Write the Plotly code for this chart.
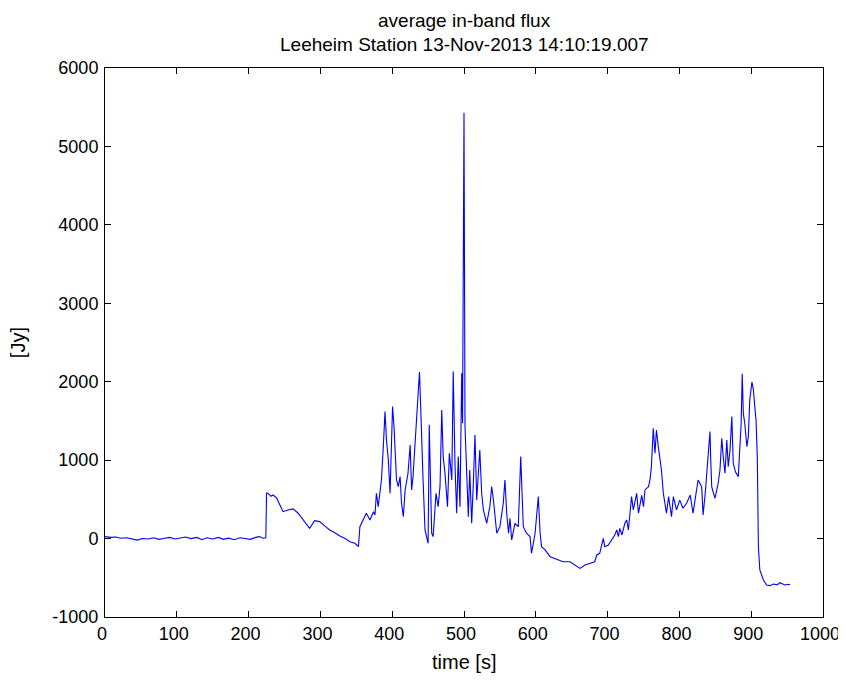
import plotly.graph_objects as go

time_s = [0, 8, 15, 22, 30, 38, 45, 52, 60, 68, 75, 83, 90, 98, 105, 112, 120, 128, 135, 142,
          150, 158, 165, 172, 180, 188, 195, 202, 210, 215, 220, 224,
          225, 227, 231, 234, 239, 244, 248, 255, 262, 269, 276, 285, 292, 299, 306, 313, 320, 327,
          334, 341, 348, 353, 355, 360, 364, 369, 374, 376, 378, 380.5, 383, 385, 387.6, 390, 392,
          394.6, 397, 399, 400.5, 402.5, 404, 406, 408.5, 411, 413, 415.5, 418, 420, 422, 425, 427,
          429, 432, 434, 436, 438, 439.5, 441, 443, 445.7, 448, 450, 451.6, 453.6, 455, 457, 461,
          464, 466.6, 469, 471, 473.5, 477, 479.6, 483, 485, 487.5, 489.8, 492, 494.4, 496.8, 498,
          499, 500, 501.4, 503.7, 506, 508, 510.7, 513, 515.3, 517.7, 520, 522, 524.6, 527, 531.6,
          536, 538.6, 541, 545.6, 550, 554.7, 557, 559.5, 562, 564, 566.4, 571, 575.6, 579, 580,
          582.6, 587, 592, 594, 599, 603.5, 606, 608, 613, 620, 629, 638, 647.6, 654.6, 661.6,
          668.5, 675.5, 682, 685, 689, 694, 696, 701, 705.7, 710, 712.7, 715, 717, 720, 724, 726.6,
          729, 731, 733.4, 735.8, 740.5, 743, 745, 747.5, 750, 752, 757, 759, 761, 763.6, 766, 768,
          770.6, 775, 777.6, 780, 782, 785, 789, 791.6, 796, 800.5, 805, 810, 815, 819, 821.6, 824,
          826, 831, 833, 836, 838, 842.6, 843.5, 845, 847.5, 849.6, 852, 854, 856.5, 859, 861,
          863.5, 866, 868, 870.5, 873, 875, 878, 882, 884, 886, 887.5, 889, 891, 894, 896, 898,
          901, 903, 905, 906.7, 908.5, 909, 910, 912, 917, 921.5, 926, 931, 936, 940, 944, 947,
          951.7, 954]

flux_jy = [25, 15, 20, 5, 10, -10, -20, 0, -5, 10, -10, 5, 15, -5, 10, 20, 0, 15, -15, 10,
           -5, 15, -10, 5, -15, 10, 0, -10, 15, 25, 5, 10,
           580, 578, 540, 556, 518, 407, 343, 365, 378, 323, 237, 131, 229, 216, 161, 110, 75, 33,
           4, -40, -60, -103, 152, 237, 323, 237, 343, 300, 578, 407, 620, 747, 1172, 1619, 1258,
           1003, 578, 1172, 1683, 1427, 1045, 747, 662, 790, 450, 280, 620, 705, 833, 1194, 620,
           790, 1216, 1471, 1900, 2125, 1730, 1172, 747, 110, 25, -60, 1450, 535, 68, 25, 578,
           407, 662, 1640, 1045, 833, 407, 1088, 747, 2129, 917, 323, 1045, 407, 2108, 1471,
           3298, 5430, 1427, 790, 280, 875, 195, 705, 1322, 492, 853, 1130, 578, 365, 195,
           407, 662, 492, 68, 152, 450, 747, 323, 68, 259, -18, 195, 152, 1045, 705,
           152, 68, 25, -188, 68, 535, 68, -103, -145, -231, -260, -295, -295, -337, -380,
           -337, -315, -295, -209, -188, 4, -103, -82, -18, 46, 110, 25, 131, 46, 195, 237,
           110, 323, 535, 365, 578, 323, 450, 550, 407, 620, 662, 747, 917, 1407, 1088, 1385,
           1172, 875, 578, 450, 323, 535, 280, 535, 365, 490, 387, 450, 556, 323, 490, 620,
           747, 662, 301, 578, 833, 1364, 1045, 662, 578, 514, 620, 705, 875, 1280, 1045,
           833, 1258, 917, 1130, 1555, 960, 853, 790, 1088, 1470, 2100, 1600, 1471, 1172, 1300, 1768,
           1997, 1900, 1683, 1513, 1045, 25, -100, -400, -528, -592, -600, -579, -590, -563, -585, -592,
           -583, -590]

x_ticks = [0, 100, 200, 300, 400, 500, 600, 700, 800, 900, 1000]
y_ticks = [-1000, 0, 1000, 2000, 3000, 4000, 5000, 6000]

FONT = "Liberation Sans, Arial, sans-serif"
TXT = dict(family=FONT, size=20, color="black")
TITLE_TXT = dict(family=FONT, size=19, color="black")

fig = go.Figure()
fig.add_trace(go.Scatter(x=time_s, y=flux_jy, mode="lines",
                         line=dict(color="#0000ff", width=1.1), showlegend=False))

axis_common = dict(showline=True, linecolor="black", linewidth=1, mirror="ticks",
                   ticks="inside", ticklen=6, tickwidth=1, tickcolor="black",
                   showgrid=False, zeroline=False, automargin=False,
                   tickfont=dict(family=FONT, size=18, color="black"))

fig.update_layout(
    width=838, height=674,
    paper_bgcolor="white", plot_bgcolor="white",
    margin=dict(l=97, r=23, t=60, b=65, autoexpand=False),
    xaxis=dict(range=[0, 1000], tickvals=x_ticks, ticktext=[str(v) for v in x_ticks],
               ticklabelshift=-3, **axis_common),
    yaxis=dict(range=[-1000, 6000], tickvals=y_ticks, ticktext=[str(v) for v in y_ticks],
               ticklabelstandoff=2, **axis_common),
    annotations=[
        dict(text="average in-band flux", x=0.5, y=1.0874, xref="paper", yref="paper",
             xanchor="center", yanchor="middle", showarrow=False, font=TITLE_TXT),
        dict(text="Leeheim Station 13-Nov-2013 14:10:19.007", x=0.5, y=1.0437,
             xref="paper", yref="paper", xanchor="center", yanchor="middle",
             showarrow=False, font=TITLE_TXT),
        dict(text="time [s]", x=0.5, y=-0.082, xref="paper", yref="paper",
             xanchor="center", yanchor="middle", showarrow=False, font=TXT),
        dict(text="[Jy]", x=-0.121, y=0.499, xref="paper", yref="paper",
             xanchor="center", yanchor="middle", textangle=-90, showarrow=False, font=TXT),
    ],
)

fig.write_html("out.html")
